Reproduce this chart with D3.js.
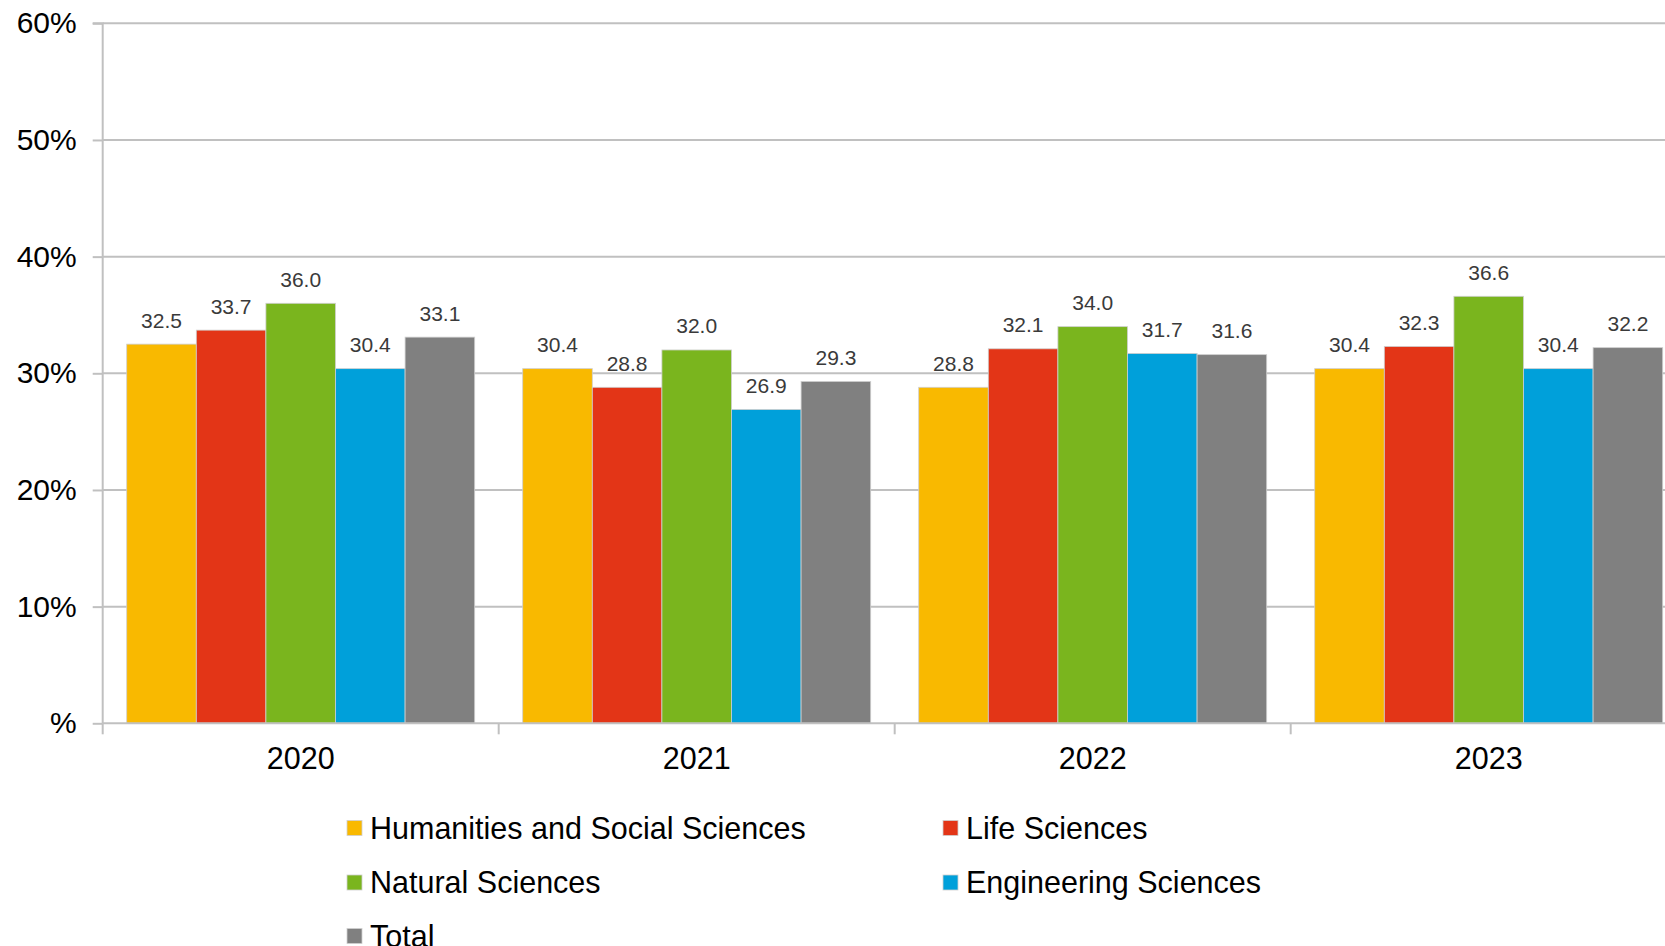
<!DOCTYPE html>
<html>
<head>
<meta charset="utf-8">
<script src="https://cdn.jsdelivr.net/npm/d3@7"></script>
<style>
  html, body { margin: 0; padding: 0; background: #fff; overflow: hidden; }
  svg { display: block; font-family: "Liberation Sans", Arial, sans-serif; }
</style>
</head>
<body>
<svg id="chart" width="1665" height="946"></svg>
<script>
const years = ["2020", "2021", "2022", "2023"];
const seriesNames = ["Humanities and Social Sciences", "Life Sciences", "Natural Sciences", "Engineering Sciences", "Total"];
const seriesColors = ["#F9B900", "#E33517", "#7AB51E", "#00A0DA", "#808080"];
const humanities = [32.5, 30.4, 28.8, 30.4];
const lifeSciences = [33.7, 28.8, 32.1, 32.3];
const naturalSciences = [36.0, 32.0, 34.0, 36.6];
const engineering = [30.4, 26.9, 31.7, 30.4];
const total = [33.1, 29.3, 31.6, 32.2];
const yTicks = [0, 10, 20, 30, 40, 50, 60];

const seriesValues = [humanities, lifeSciences, naturalSciences, engineering, total];

(function () {
const svg = d3.select("#chart");
const mLeft = 102.7, mTop = 23.3, mBottom = 723.3;
const plotRight = mLeft + 4 * 396;

const x0 = d3.scaleBand().domain(years).range([mLeft, plotRight]).padding(0);
const x1 = d3.scaleBand().domain(seriesNames).range([0, x0.bandwidth()]).paddingInner(0).paddingOuter(0.345);
const y = d3.scaleLinear().domain([0, 60]).range([mBottom, mTop]);

// gridlines
svg.append("g").selectAll("line").data(yTicks.filter(d => d > 0)).join("line")
  .attr("x1", mLeft).attr("x2", 1665)
  .attr("y1", d => y(d)).attr("y2", d => y(d))
  .attr("stroke", "#c0c0c0").attr("stroke-width", 2);

// bars
const groups = svg.append("g").selectAll("g").data(years).join("g")
  .attr("transform", d => `translate(${x0(d)},0)`);

groups.selectAll("rect").data((yr, i) => seriesNames.map((s, j) => ({s, v: seriesValues[j][i], c: seriesColors[j]})))
  .join("rect")
  .attr("x", d => x1(d.s))
  .attr("width", x1.bandwidth())
  .attr("y", d => y(d.v))
  .attr("height", d => y(0) - y(d.v))
  .attr("fill", d => d.c)
  .attr("stroke", "#cfcfcf").attr("stroke-width", 0.8);

groups.selectAll("text").data((yr, i) => seriesNames.map((s, j) => ({s, v: seriesValues[j][i]})))
  .join("text")
  .attr("x", d => x1(d.s) + x1.bandwidth() / 2)
  .attr("y", d => y(d.v) - 16.5)
  .attr("text-anchor", "middle")
  .attr("font-size", 21)
  .attr("fill", "#3a3a3a")
  .text(d => d.v.toFixed(1));

// y axis
const yAxis = d3.axisLeft(y).tickValues(yTicks).tickSize(10).tickPadding(16)
  .tickFormat(d => d === 0 ? "%" : d + "%");
const yg = svg.append("g").attr("transform", `translate(${mLeft},0)`).call(yAxis);
yg.select(".domain").attr("stroke", "#c0c0c0").attr("stroke-width", 2).attr("d", `M-10,${mTop}H0V${mBottom}`);
yg.selectAll(".tick line").attr("stroke", "#c0c0c0").attr("stroke-width", 2);
yg.selectAll(".tick text").attr("font-size", 30).attr("fill", "#000").attr("font-family", "Liberation Sans, Arial, sans-serif");

// x axis baseline
svg.append("line").attr("x1", mLeft).attr("x2", 1665).attr("y1", mBottom).attr("y2", mBottom)
  .attr("stroke", "#c0c0c0").attr("stroke-width", 2);
// category boundary ticks
svg.append("g").selectAll("line").data(years).join("line")
  .attr("x1", d => x0(d)).attr("x2", d => x0(d))
  .attr("y1", mBottom).attr("y2", mBottom + 11)
  .attr("stroke", "#c0c0c0").attr("stroke-width", 2);
// category labels
svg.append("g").selectAll("text").data(years).join("text")
  .attr("x", d => x0(d) + x0.bandwidth() / 2)
  .attr("y", 769)
  .attr("text-anchor", "middle")
  .attr("font-size", 30.5)
  .attr("fill", "#000")
  .text(d => d);

// legend
const legendPos = [[347, 828], [943, 828], [347, 882.5], [943, 882.5], [347, 936]];
const lg = svg.append("g").selectAll("g").data(seriesNames).join("g")
  .attr("transform", (d, i) => `translate(${legendPos[i][0]},${legendPos[i][1]})`);
lg.append("rect").attr("x", 0).attr("y", -7.5).attr("width", 15).attr("height", 15)
  .attr("fill", (d, i) => seriesColors[i]).attr("stroke", "#cfcfcf").attr("stroke-width", 0.8);
lg.append("text").attr("x", 23).attr("y", 0).attr("dy", "0.36em")
  .attr("font-size", 30.5).attr("fill", "#000").text(d => d);
})();
</script>
</body>
</html>
